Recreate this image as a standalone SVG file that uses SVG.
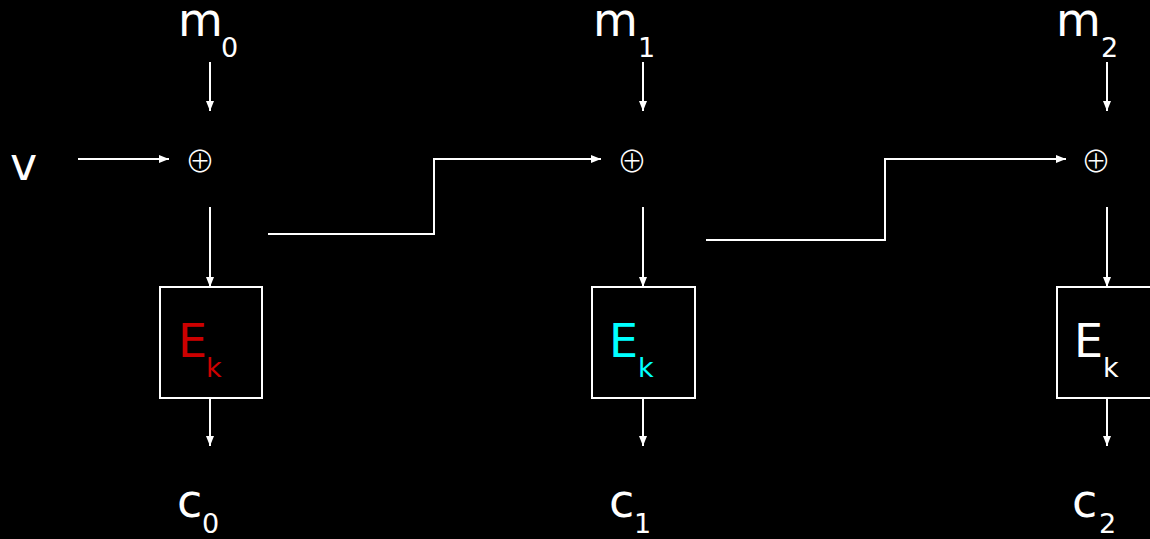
<svg xmlns="http://www.w3.org/2000/svg" width="1150" height="539" viewBox="0 0 1150 539">
<defs>
<marker id="ah" viewBox="0 0 10 10" refX="10" refY="5" markerWidth="10" markerHeight="10" markerUnits="userSpaceOnUse" orient="auto">
<path d="M0,1 L10,5 L0,9 z" fill="#fff"/>
</marker>
<style>
.ln{stroke:#fff;stroke-width:2;fill:none}
.bx{stroke:#fff;stroke-width:2;fill:none}
.t{font-family:"DejaVu Sans",sans-serif;fill:#fff;font-size:46px}
.s{font-family:"DejaVu Sans",sans-serif;fill:#fff;font-size:27px}
.x{font-family:"Noto Sans CJK JP",sans-serif;font-weight:300;fill:#fff;font-size:30px;text-anchor:middle}
</style>
</defs>
<rect width="1150" height="539" fill="#000"/>
<g id="connectors">
<line class="ln" x1="210" y1="62" x2="210" y2="111" marker-end="url(#ah)"/>
<line class="ln" x1="78" y1="159" x2="169" y2="159" marker-end="url(#ah)"/>
<line class="ln" x1="210" y1="207" x2="210" y2="287" marker-end="url(#ah)"/>
<line class="ln" x1="210" y1="398" x2="210" y2="446" marker-end="url(#ah)"/>
<polyline class="ln" points="268,234 434,234 434,159 601,159" marker-end="url(#ah)"/>
<line class="ln" x1="643" y1="62" x2="643" y2="111" marker-end="url(#ah)"/>
<line class="ln" x1="643" y1="207" x2="643" y2="287" marker-end="url(#ah)"/>
<line class="ln" x1="643" y1="398" x2="643" y2="446" marker-end="url(#ah)"/>
<polyline class="ln" points="706,240 885,240 885,159 1066,159" marker-end="url(#ah)"/>
<line class="ln" x1="1107" y1="62" x2="1107" y2="111" marker-end="url(#ah)"/>
<line class="ln" x1="1107" y1="207" x2="1107" y2="287" marker-end="url(#ah)"/>
<line class="ln" x1="1107" y1="398" x2="1107" y2="446" marker-end="url(#ah)"/>
</g>
<g id="v"><text class="t" x="10" y="180">v</text></g>
<g id="m0"><text class="t" x="178" y="36">m</text><text class="s" x="221" y="57">0</text></g>
<g id="m1"><text class="t" x="593" y="36">m</text><text class="s" x="638" y="57">1</text></g>
<g id="m2"><text class="t" x="1056" y="36">m</text><text class="s" x="1101" y="57">2</text></g>
<g id="xor0"><text class="x" x="200" y="172">⊕</text></g>
<g id="xor1"><text class="x" x="632" y="172">⊕</text></g>
<g id="xor2"><text class="x" x="1096" y="172">⊕</text></g>
<g id="E0"><rect class="bx" x="160" y="287" width="102" height="111"/><text class="t" x="178" y="357" style="fill:#cc0000">E</text><text class="s" x="206" y="377" style="fill:#cc0000">k</text></g>
<g id="E1"><rect class="bx" x="592" y="287" width="103" height="111"/><text class="t" x="609" y="357" style="fill:#00ffff">E</text><text class="s" x="638" y="377" style="fill:#00ffff">k</text></g>
<g id="E2"><rect class="bx" x="1057" y="287" width="103" height="111"/><text class="t" x="1074" y="357">E</text><text class="s" x="1103" y="377">k</text></g>
<g id="c0"><text class="t" x="177" y="517">c</text><text class="s" x="202" y="533">0</text></g>
<g id="c1"><text class="t" x="609" y="517">c</text><text class="s" x="634" y="533">1</text></g>
<g id="c2"><text class="t" x="1072" y="517">c</text><text class="s" x="1099" y="533">2</text></g>
</svg>
